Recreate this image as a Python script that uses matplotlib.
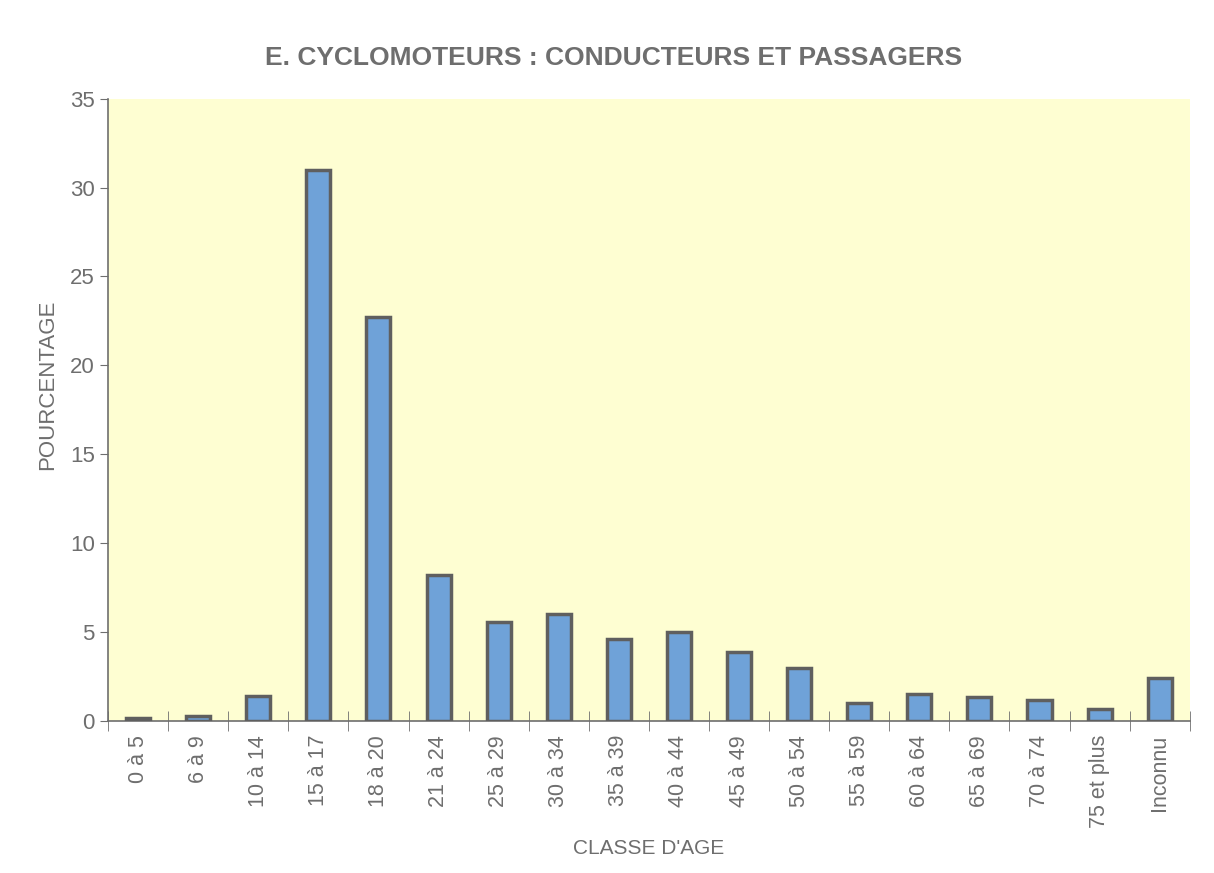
import numpy as np
import matplotlib; matplotlib.use("Agg")
import matplotlib.pyplot as plt
from matplotlib.ticker import FixedLocator

classes = ["0 à 5", "6 à 9", "10 à 14", "15 à 17", "18 à 20", "21 à 24",
           "25 à 29", "30 à 34", "35 à 39", "40 à 44", "45 à 49", "50 à 54",
           "55 à 59", "60 à 64", "65 à 69", "70 à 74", "75 et plus", "Inconnu"]
pourcentage = [0.2, 0.3, 1.4, 31.0, 22.7, 8.2, 5.6, 6.0, 4.6, 5.0, 3.9, 3.0,
               1.0, 1.5, 1.35, 1.2, 0.7, 2.4]

plt.rcParams["font.family"] = ["Liberation Sans", "DejaVu Sans"]
grey = "#6e6e6e"

fig = plt.figure(figsize=(12.14, 8.73), dpi=100)
ax = fig.add_axes([0.089, 0.174, 0.891, 0.713])
ax.set_facecolor("#fefed2")

x = np.arange(len(classes))
ax.bar(x, pourcentage, width=0.4, color="#6fa2d8", edgecolor="#5f5f5f", linewidth=2.5, zorder=3)

ax.set_xlim(-0.5, len(classes) - 0.5)
ax.set_ylim(0, 35)
ax.set_yticks(range(0, 36, 5))
ax.set_xticks(x)
ax.set_xticklabels(classes, rotation=90, color=grey, fontsize=15.5)
ax.xaxis.set_minor_locator(FixedLocator(np.arange(-0.5, len(classes), 1)))
ax.tick_params(axis="x", which="major", length=0, pad=10)
ax.tick_params(axis="x", which="minor", direction="inout", length=14, color=grey)
ax.tick_params(axis="y", length=6, color=grey, labelcolor=grey, labelsize=16)

for s in ["top", "right"]:
    ax.spines[s].set_visible(False)
for s in ["left", "bottom"]:
    ax.spines[s].set_color(grey)
    ax.spines[s].set_linewidth(1.2)

ax.set_xlabel("CLASSE D'AGE", color=grey, fontsize=15)
ax.xaxis.set_label_coords(0.5, -0.19)
ax.set_ylabel("POURCENTAGE", color=grey, fontsize=16)
ax.yaxis.set_label_coords(-0.046, 0.54)
fig.text(0.505, 0.934, "E. CYCLOMOTEURS : CONDUCTEURS ET PASSAGERS",
         ha="center", va="center", fontsize=19, fontweight="bold", color=grey)

fig.savefig("out.png", dpi=100)
